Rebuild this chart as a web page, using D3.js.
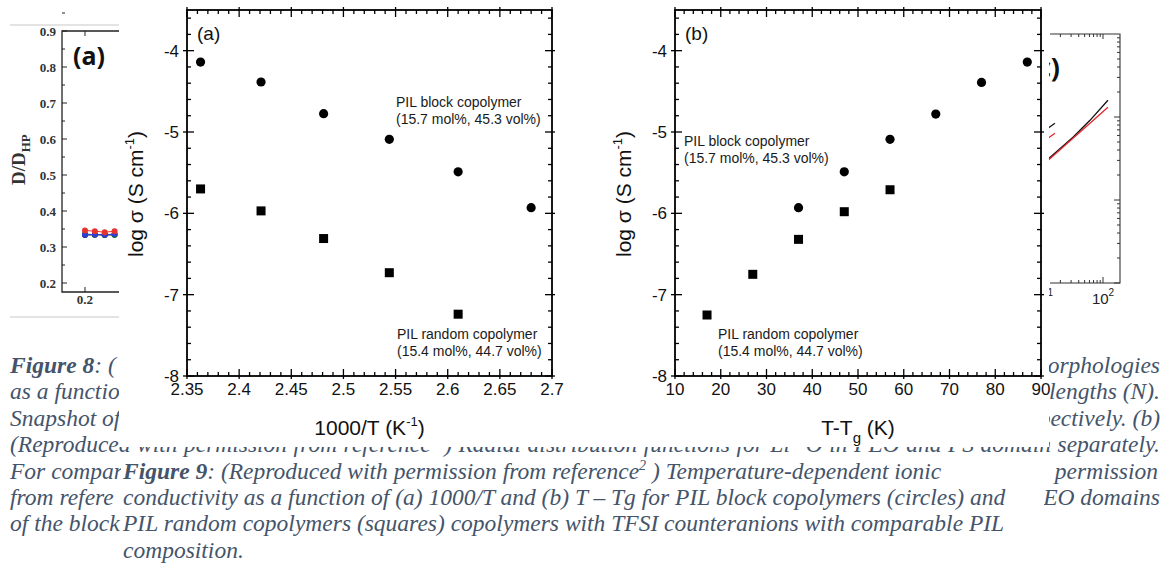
<!DOCTYPE html>
<html><head><meta charset="utf-8">
<script src="https://cdn.jsdelivr.net/npm/d3@7"></script>
<style>body{margin:0;background:#fff}svg{display:block}</style>
</head><body>
<svg id="c" width="1162" height="571"></svg>
<script>
// ---------------- DATA ----------------
// Figure 9 (a): log sigma vs 1000/T
const invT_block   = [2.363, 2.421, 2.481, 2.544, 2.610, 2.680];
const logS_block_a = [-4.14, -4.385, -4.775, -5.09, -5.49, -5.93];
const invT_random  = [2.363, 2.421, 2.481, 2.544, 2.610];
const logS_random_a= [-5.70, -5.97, -6.31, -6.73, -7.24];
// Figure 9 (b): log sigma vs T-Tg
const dT_block     = [37, 47, 57, 67, 77, 87];
const logS_block_b = [-5.93, -5.49, -5.09, -4.78, -4.39, -4.14];
const dT_random    = [17, 27, 37, 47, 57];
const logS_random_b= [-7.25, -6.75, -6.32, -5.98, -5.71];
// tick labels
const xTicksA  = [2.35, 2.4, 2.45, 2.5, 2.55, 2.6, 2.65, 2.7];
const xLabelsA = ["2.35","2.4","2.45","2.5","2.55","2.6","2.65","2.7"];
const xTicksB  = [10, 20, 30, 40, 50, 60, 70, 80, 90];
const xLabelsB = ["10","20","30","40","50","60","70","80","90"];
const yTicks   = [-8, -7, -6, -5, -4];
const yLabels  = ["-8","-7","-6","-5","-4"];
// Figure 8 (a) fragment: D/D_HP
const f8aTicks  = [0.2, 0.3, 0.4, 0.5, 0.6, 0.7, 0.8, 0.9];
const f8aLabels = ["0.2","0.3","0.4","0.5","0.6","0.7","0.8","0.9"];
const f8aX      = [0.2, 0.215, 0.23, 0.245];
const f8aBlack  = [0.333, 0.334, 0.333, 0.334];
const f8aGreen  = [0.336, 0.334, 0.335, 0.334];
const f8aBlue   = [0.334, 0.335, 0.334, 0.336];
const f8aRed    = [0.346, 0.344, 0.341, 0.344];
// Figure 8 (c) fragment: log-log curves
const f8cX      = [12.5, 32.2, 61.2, 120.5];
const f8cBlack  = [0.031, 0.0569, 0.0912, 0.159];
const f8cRed    = [0.030, 0.0554, 0.0839, 0.131];
const f8cStubX  = [12.5, 16.3];
const f8cStubBk = [0.0731, 0.0839];
const f8cStubRd = [0.0554, 0.0636];
// captions
const cap8Left  = ["Figure 8", "as a function", "Snapshot of", null, "For compar", "from refere", "of the block"];
const cap8Right = ["morphologies", "lengths (N).", "respectively. (b)", null, "permission", "PEO domains"];
const cap8Line4 = "(Reproduced with permission from reference\u00B3 ) Radial distribution functions for Li\u207A-O in PEO and PS domain separately.";
const cap9Lines = [
  "conductivity as a function of (a) 1000/T and (b) T \u2013 Tg for PIL block copolymers (circles) and",
  "PIL random copolymers (squares) copolymers with TFSI counteranions with comparable PIL",
  "composition."
];

// ---------------- DRAW ----------------
const svg = d3.select("#c");
svg.append("rect").attr("width",1162).attr("height",571).attr("fill","#fff");
const serif = "'Liberation Serif','Times New Roman',serif";
const sans  = "'Liberation Sans',Arial,sans-serif";
const capColor = "#44546A";
const capSize = 23.5;
const lineY = i => 373 + 26.4*i;

// --- Figure 8 caption (background) ---
const cap = svg.append("g").attr("font-family",serif).attr("font-style","italic")
  .attr("font-size",capSize).attr("fill",capColor);
cap8Left.forEach((t,i)=>{
  if(t===null) return;
  const tx = cap.append("text").attr("x",10).attr("y",lineY(i));
  if(i===0){ tx.append("tspan").attr("font-weight","bold").text(t); tx.append("tspan").text(": ("); }
  else tx.text(t);
});
cap8Right.forEach((t,i)=>{
  if(t===null) return;
  cap.append("text").attr("x", i===4?1158:1160).attr("y",lineY(i)).attr("text-anchor","end").text(t);
});
{
  const t4 = cap.append("text").attr("x",10).attr("y",lineY(3)).text(cap8Line4);
  const n = (cap8Line4.match(/ /g)||[]).length;
  const w = t4.node().getComputedTextLength();
  t4.attr("word-spacing", (1150 - w)/n);
}

// --- Figure 8 (a) fragment ---
{
  const g = svg.append("g");
  g.append("line").attr("x1",10).attr("x2",119).attr("y1",25).attr("y2",25).attr("stroke","#c8c8c8");
  g.append("line").attr("x1",10).attr("x2",119).attr("y1",317).attr("y2",317).attr("stroke","#c8c8c8");
  const ys = d3.scaleLinear().domain([0.175,0.9]).range([292,31]);
  const xs = d3.scaleLinear().domain([0.165,0.5]).range([62,282]);
  g.append("path").attr("d",`M${xs.range()[1]},${ys(0.9)}H62V${ys(0.175)}H${xs.range()[1]}`)
    .attr("fill","none").attr("stroke","#222").attr("stroke-width",1.3);
  f8aTicks.forEach((v,i)=>{
    g.append("line").attr("x1",62).attr("x2",67).attr("y1",ys(v)).attr("y2",ys(v)).attr("stroke","#222");
    g.append("line").attr("x1",62).attr("x2",65).attr("y1",ys(v+0.05)).attr("y2",ys(v+0.05)).attr("stroke","#222");
    g.append("text").attr("x",56).attr("y",ys(v)).attr("dy","0.35em").attr("text-anchor","end")
      .attr("font-family",serif).attr("font-weight","bold").attr("font-size",13).attr("fill","#333").text(f8aLabels[i]);
  });
  g.append("line").attr("x1",xs(0.2)).attr("x2",xs(0.2)).attr("y1",ys(0.175)).attr("y2",ys(0.175)-5).attr("stroke","#222");
  g.append("line").attr("x1",xs(0.2)).attr("x2",xs(0.2)).attr("y1",ys(0.9)).attr("y2",ys(0.9)+5).attr("stroke","#222");
  g.append("text").attr("x",xs(0.2)).attr("y",304).attr("text-anchor","middle")
    .attr("font-family",serif).attr("font-weight","bold").attr("font-size",13).attr("fill","#333").text("0.2");
  const yl = g.append("text").attr("transform","translate(25,185) rotate(-90)")
    .attr("font-family",serif).attr("font-weight","bold").attr("font-size",19).attr("fill","#333");
  yl.append("tspan").text("D/D");
  yl.append("tspan").attr("dy",5).attr("font-size",13).text("HP");
  g.append("text").attr("x",73).attr("y",65).attr("font-family","'Noto Sans',sans-serif")
    .attr("font-weight","bold").attr("font-size",25).attr("fill","#111").text("(a)");
  const series = [[f8aBlack,"#111"],[f8aGreen,"#1f7a1f"],[f8aBlue,"#2b3fd6"],[f8aRed,"#e8322e"]];
  series.forEach(([vals,col])=>{
    const pts = f8aX.map((x,i)=>[xs(x),ys(vals[i])]);
    g.append("path").attr("d",d3.line()(pts)).attr("fill","none").attr("stroke",col).attr("stroke-width",1);
    pts.forEach(p=>g.append("circle").attr("cx",p[0]).attr("cy",p[1]).attr("r",3).attr("fill",col));
  });
}

// --- Figure 8 (c) fragment ---
{
  const g = svg.append("g");
  const xs = d3.scaleLog().domain([10,100]).range([1042,1103]);
  const ys = d3.scaleLog().domain([0.001,1]).range([283,34]);
  g.append("path").attr("d","M1050,34H1120V283H1050").attr("fill","none").attr("stroke","#333").attr("stroke-width",1.1);
  for(let e=-3;e<0;e++){
    for(let m=1;m<10;m++){
      const v = m*Math.pow(10,e), yy = ys(v);
      g.append("line").attr("x1",1120).attr("x2",m===1?1114:1117).attr("y1",yy).attr("y2",yy).attr("stroke","#333");
    }
  }
  for(let e=1;e<3;e++){
    for(let m=1;m<10;m++){
      const v = m*Math.pow(10,e), xx = xs(v);
      if(xx>1120 || xx<1050) continue;
      g.append("line").attr("x1",xx).attr("x2",xx).attr("y1",283).attr("y2",m===1?277:280).attr("stroke","#333");
      g.append("line").attr("x1",xx).attr("x2",xx).attr("y1",34).attr("y2",m===1?39:37).attr("stroke","#333");
    }
  }
  [[10,"1"],[100,"2"]].forEach(([v,s])=>{
    const t = g.append("text").attr("x",xs(v)).attr("y",304).attr("text-anchor","middle")
      .attr("font-family",sans).attr("font-size",15).attr("fill","#222");
    t.append("tspan").text("10");
    t.append("tspan").attr("dy",-8).attr("font-size",10).text(s);
  });
  const line = d3.line().x(d=>xs(d[0])).y(d=>ys(d[1]));
  g.append("path").attr("d",line(f8cX.map((x,i)=>[x,f8cBlack[i]]))).attr("fill","none").attr("stroke","#111").attr("stroke-width",1.3);
  g.append("path").attr("d",line(f8cX.map((x,i)=>[x,f8cRed[i]]))).attr("fill","none").attr("stroke","#e3262d").attr("stroke-width",1.3);
  g.append("path").attr("d",line(f8cStubX.map((x,i)=>[x,f8cStubBk[i]]))).attr("fill","none").attr("stroke","#111").attr("stroke-width",1.3);
  g.append("path").attr("d",line(f8cStubX.map((x,i)=>[x,f8cStubRd[i]]))).attr("fill","none").attr("stroke","#e3262d").attr("stroke-width",1.3);
  g.append("text").attr("x",1060).attr("y",77).attr("text-anchor","end").attr("font-family","'Noto Sans',sans-serif")
    .attr("font-weight","bold").attr("font-size",27).attr("fill","#111").text("(c)");
}

// --- Figure 9 image area ---
svg.append("rect").attr("x",119).attr("y",0).attr("width",930).attr("height",447).attr("fill","#fff");

function panel(o){
  const g = svg.append("g").attr("font-family",sans).attr("fill","#111");
  const x = d3.scaleLinear().domain(o.xDomain).range([o.x0,o.x1]);
  const y = d3.scaleLinear().domain([-8,-3.5]).range([376,10]);
  const [X0,X1] = x.range(), Y0 = y(-8), Y1 = y(-3.5);
  const tk = (x1,y1,x2,y2)=>g.append("line").attr("x1",x1).attr("y1",y1).attr("x2",x2).attr("y2",y2)
      .attr("stroke","#000").attr("stroke-width",1.3);
  // minor ticks
  o.xMinor.forEach(v=>{ tk(x(v),Y0,x(v),Y0-4); tk(x(v),Y1,x(v),Y1+4); });
  d3.range(0,23).filter(i=>i%5!==0).map(i=>-8+i*0.2).forEach(v=>{ tk(X0,y(v),X0+4,y(v)); tk(X1,y(v),X1-4,y(v)); });
  // major ticks
  o.xTicks.forEach(v=>{ tk(x(v),Y0+3,x(v),Y0-7); tk(x(v),Y1-3,x(v),Y1+7); });
  yTicks.forEach(v=>{ tk(X0-4,y(v),X0+7,y(v)); tk(X1+3,y(v),X1-7,y(v)); });
  g.append("rect").attr("x",X0).attr("y",Y1).attr("width",X1-X0).attr("height",Y0-Y1)
    .attr("fill","none").attr("stroke","#000").attr("stroke-width",1.8);
  // labels
  o.xTicks.forEach((v,i)=>g.append("text").attr("x",x(v)).attr("y",395).attr("text-anchor","middle")
    .attr("font-size",17).text(o.xLabels[i]));
  yTicks.forEach((v,i)=>g.append("text").attr("x",X0-8).attr("y",y(v)).attr("dy","0.36em")
    .attr("text-anchor","end").attr("font-size",17).text(yLabels[i]));
  // y title
  const yt = g.append("text").attr("transform",`translate(${X0-44},194) rotate(-90)`)
    .attr("text-anchor","middle").attr("font-size",21);
  yt.append("tspan").text("log \u03C3 (S cm");
  yt.append("tspan").attr("dy",-9).attr("font-size",13).text("-1");
  yt.append("tspan").attr("dy",9).text(")");
  // x title
  const xt = g.append("text").attr("x",(X0+X1)/2).attr("y",435).attr("text-anchor","middle").attr("font-size",21);
  o.xTitle(xt);
  // panel label
  g.append("text").attr("x",X0+10).attr("y",40).attr("font-size",19).text(o.label);
  // markers
  o.circles.forEach(d=>g.append("circle").attr("cx",x(d[0])).attr("cy",y(d[1])).attr("r",4.6).attr("fill","#000"));
  o.squares.forEach(d=>g.append("rect").attr("x",x(d[0])-4.5).attr("y",y(d[1])-4.5).attr("width",9).attr("height",9).attr("fill","#000"));
  // annotations
  o.notes.forEach(n=>{
    g.append("text").attr("x",n[0]).attr("y",n[1]).attr("font-size",14).attr("fill","#1a1a1a").text(n[2]);
  });
}

panel({
  x0:187, x1:552, xDomain:[2.35,2.7], xTicks:xTicksA, xLabels:xLabelsA,
  xMinor: d3.range(0,36).filter(i=>i%5!==0).map(i=>2.35+i*0.01),
  label:"(a)",
  xTitle: t=>{ t.append("tspan").text("1000/T (K"); t.append("tspan").attr("dy",-9).attr("font-size",13).text("-1"); t.append("tspan").attr("dy",9).text(")"); },
  circles: invT_block.map((v,i)=>[v,logS_block_a[i]]),
  squares: invT_random.map((v,i)=>[v,logS_random_a[i]]),
  notes: [[396,107,"PIL block copolymer"],[396,124,"(15.7 mol%, 45.3 vol%)"],
          [397,339,"PIL random copolymer"],[397,356,"(15.4 mol%, 44.7 vol%)"]]
});
panel({
  x0:675, x1:1041, xDomain:[10,90], xTicks:xTicksB, xLabels:xLabelsB,
  xMinor: d3.range(0,41).filter(i=>i%5!==0).map(i=>10+i*2),
  label:"(b)",
  xTitle: t=>{ t.append("tspan").text("T-T"); t.append("tspan").attr("dy",8).attr("font-size",15).text("g"); t.append("tspan").attr("dy",-8).text(" (K)"); },
  circles: dT_block.map((v,i)=>[v,logS_block_b[i]]),
  squares: dT_random.map((v,i)=>[v,logS_random_b[i]]),
  notes: [[684,146,"PIL block copolymer"],[684,163,"(15.7 mol%, 45.3 vol%)"],
          [718,339,"PIL random copolymer"],[718,356,"(15.4 mol%, 44.7 vol%)"]]
});

// --- Figure 9 caption box ---
svg.append("rect").attr("x",121).attr("y",459).attr("width",923).attr("height",112).attr("fill","#fff");
{
  const g = svg.append("g").attr("font-family",serif).attr("font-style","italic")
    .attr("font-size",capSize).attr("fill",capColor);
  const t = g.append("text").attr("x",123).attr("y",lineY(4));
  t.append("tspan").attr("font-weight","bold").text("Figure 9");
  t.append("tspan").text(": (Reproduced with permission from reference");
  t.append("tspan").attr("dy",-9).attr("font-size",14).text("2");
  t.append("tspan").attr("dy",9).text(" ) Temperature-dependent ionic");
  cap9Lines.forEach((s,i)=>g.append("text").attr("x",123).attr("y",lineY(5+i)).text(s));
}
</script>
</body></html>
